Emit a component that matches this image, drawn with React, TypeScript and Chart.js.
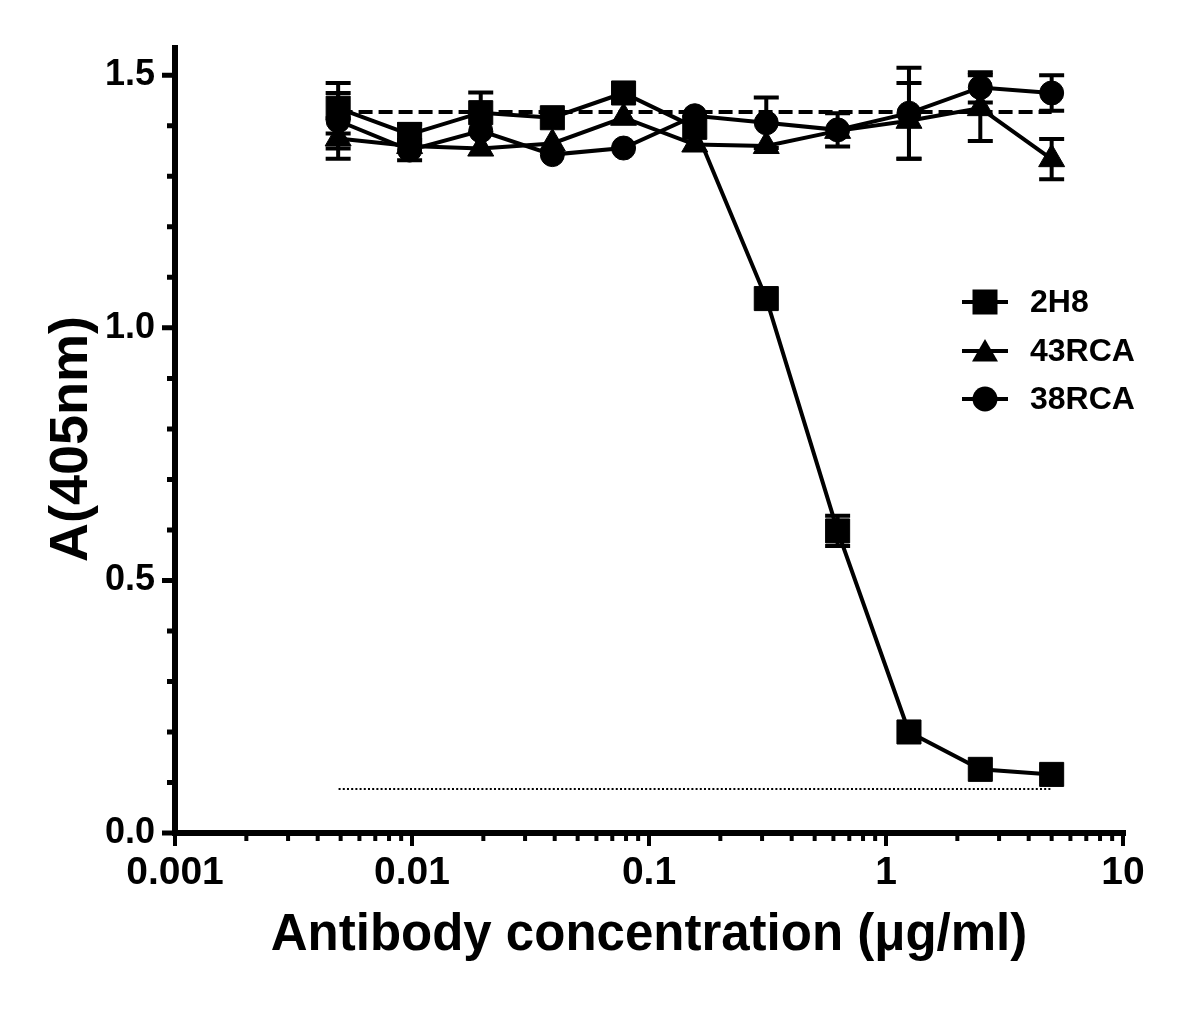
import React, { useEffect, useRef } from "react";
import { Chart, registerables } from "chart.js";

Chart.register(...registerables);

// ---- Data ----
const concentrations = [0.00488, 0.00977, 0.0195, 0.0391, 0.0781, 0.156, 0.3125, 0.625, 1.25, 2.5, 5];
const series2H8 = [1.435, 1.383, 1.426, 1.416, 1.465, 1.397, 1.058, 0.598, 0.2, 0.126, 0.116];
const err2H8 = [0.05, 0.02, 0.04, 0, 0, 0, 0, 0.03, 0, 0, 0];
const series43RCA = [1.375, 1.36, 1.355, 1.365, 1.416, 1.363, 1.36, 1.39, 1.41, 1.435, 1.334];
const err43RCA = [0.04, 0, 0, 0, 0, 0, 0, 0, 0.075, 0.065, 0.04];
const series38RCA = [1.41, 1.352, 1.39, 1.343, 1.356, 1.42, 1.406, 1.392, 1.425, 1.476, 1.465];
const err38RCA = [0.055, 0.02, 0, 0, 0, 0, 0.05, 0.033, 0.09, 0.03, 0.035];
const seriesLabels = ["2H8", "43RCA", "38RCA"];
const seriesMarkers = ["rect", "triangle", "circle"];

const xTickValues = [0.001, 0.01, 0.1, 1, 10];
const xTickLabels = ["0.001", "0.01", "0.1", "1", "10"];
const yTickValues = [0, 0.5, 1.0, 1.5];
const yTickLabels = ["0.0", "0.5", "1.0", "1.5"];
const yMinorTicks = [0.1, 0.2, 0.3, 0.4, 0.6, 0.7, 0.8, 0.9, 1.1, 1.2, 1.3, 1.4];
const xMinorMultipliers = [2, 3, 4, 5, 6, 7, 8, 9];

const plateauRange = [0.0049, 5];
const plateauLevel = 1.4275;
const backgroundRange = [0.0049, 5];
const backgroundLevel = 0.087;

const xTitle = "Antibody concentration (μg/ml)";
const yTitle = "A(405nm)";

const FONT = "'Liberation Sans', Arial, Helvetica, sans-serif";
const BLACK = "#000000";

const seriesValues = [series2H8, series43RCA, series38RCA];
const seriesErrors = [err2H8, err43RCA, err38RCA];

function drawMarker(ctx: CanvasRenderingContext2D, kind: string, x: number, y: number) {
  ctx.beginPath();
  if (kind === "rect") {
    ctx.rect(x - 12.5, y - 12.5, 25, 25);
  } else if (kind === "triangle") {
    const r = 15;
    ctx.moveTo(x, y - r);
    ctx.lineTo(x + r * Math.sin((2 * Math.PI) / 3), y - r * Math.cos((2 * Math.PI) / 3));
    ctx.lineTo(x + r * Math.sin((4 * Math.PI) / 3), y - r * Math.cos((4 * Math.PI) / 3));
    ctx.closePath();
  } else {
    ctx.arc(x, y, 12.5, 0, Math.PI * 2);
  }
  ctx.fillStyle = BLACK;
  ctx.fill();
}

const errorBarPlugin = {
  id: "errorBars",
  beforeDatasetsDraw(chart: any) {
    const { ctx, scales } = chart;
    const xs = scales.x;
    const ys = scales.y;
    ctx.save();
    ctx.strokeStyle = BLACK;
    ctx.lineWidth = 4;
    ctx.lineCap = "butt";
    seriesValues.forEach((vals, si) => {
      const errs = seriesErrors[si];
      vals.forEach((v, j) => {
        const e = errs[j];
        if (!e) return;
        const px = xs.getPixelForValue(concentrations[j]);
        const top = ys.getPixelForValue(v + e);
        const bot = ys.getPixelForValue(v - e);
        ctx.beginPath();
        ctx.moveTo(px, top);
        ctx.lineTo(px, bot);
        ctx.moveTo(px - 12.5, top);
        ctx.lineTo(px + 12.5, top);
        ctx.moveTo(px - 12.5, bot);
        ctx.lineTo(px + 12.5, bot);
        ctx.stroke();
      });
    });
    ctx.restore();
  },
};

const axesPlugin = {
  id: "prismAxes",
  afterDraw(chart: any) {
    const { ctx, scales, chartArea } = chart;
    const xs = scales.x;
    const ys = scales.y;
    const axisX = chartArea.left;
    const axisY = chartArea.bottom;
    ctx.save();
    ctx.strokeStyle = BLACK;
    ctx.lineCap = "butt";
    // axis lines
    ctx.lineWidth = 6;
    ctx.beginPath();
    ctx.moveTo(axisX, chartArea.top);
    ctx.lineTo(axisX, axisY + 3);
    ctx.moveTo(axisX - 3, axisY);
    ctx.lineTo(chartArea.right + 3, axisY);
    ctx.stroke();
    // y ticks
    ctx.lineWidth = 5;
    ctx.beginPath();
    yTickValues.forEach((v) => {
      const py = ys.getPixelForValue(v);
      ctx.moveTo(axisX - 13, py);
      ctx.lineTo(axisX, py);
    });
    yMinorTicks.forEach((v) => {
      const py = ys.getPixelForValue(v);
      ctx.moveTo(axisX - 8, py);
      ctx.lineTo(axisX, py);
    });
    ctx.stroke();
    // x ticks
    ctx.beginPath();
    xTickValues.forEach((v) => {
      const px = xs.getPixelForValue(v);
      ctx.moveTo(px, axisY);
      ctx.lineTo(px, axisY + 13);
    });
    xTickValues.slice(0, -1).forEach((d) => {
      xMinorMultipliers.forEach((m) => {
        const px = xs.getPixelForValue(d * m);
        ctx.moveTo(px, axisY);
        ctx.lineTo(px, axisY + 8);
      });
    });
    ctx.lineWidth = 4;
    ctx.stroke();
    ctx.restore();
  },
};

const legendPlugin = {
  id: "prismLegend",
  afterDraw(chart: any) {
    const { ctx } = chart;
    const rows = [302, 351, 399];
    ctx.save();
    seriesLabels.forEach((label, i) => {
      const y = rows[i];
      ctx.strokeStyle = BLACK;
      ctx.lineWidth = 4;
      ctx.beginPath();
      ctx.moveTo(962, y);
      ctx.lineTo(1008, y);
      ctx.stroke();
      drawMarker(ctx, seriesMarkers[i], 985, seriesMarkers[i] === "triangle" ? y + 3 : y);
      ctx.fillStyle = BLACK;
      ctx.font = `bold 32px ${FONT}`;
      ctx.textAlign = "left";
      ctx.textBaseline = "middle";
      ctx.fillText(label, 1030, y + 1);
    });
    ctx.restore();
  },
};

function matchIndex(list: number[], v: number) {
  return list.findIndex((t) => Math.abs(t - v) < 1e-9 * Math.max(1, Math.abs(t)) || Math.abs(Math.log10(Math.abs(t) || 1e-12) - Math.log10(Math.abs(v) || 1e-12)) < 1e-6);
}

export default function App() {
  const ref = useRef<HTMLCanvasElement>(null);

  useEffect(() => {
    const canvas = ref.current;
    if (!canvas) return;

    const mkData = (vals: number[]) => concentrations.map((x, i) => ({ x, y: vals[i] }));

    const datasets: any[] = [
      {
        label: seriesLabels[0],
        data: mkData(series2H8),
        showLine: true,
        borderColor: BLACK,
        backgroundColor: BLACK,
        borderWidth: 4,
        pointStyle: "rect",
        pointRadius: 17,
        pointBorderWidth: 1,
        pointBackgroundColor: BLACK,
        pointBorderColor: BLACK,
        order: 1,
      },
      {
        label: seriesLabels[1],
        data: mkData(series43RCA),
        showLine: true,
        borderColor: BLACK,
        backgroundColor: BLACK,
        borderWidth: 4,
        pointStyle: "triangle",
        pointRadius: 15,
        pointBorderWidth: 1,
        pointBackgroundColor: BLACK,
        pointBorderColor: BLACK,
        order: 2,
      },
      {
        label: seriesLabels[2],
        data: mkData(series38RCA),
        showLine: true,
        borderColor: BLACK,
        backgroundColor: BLACK,
        borderWidth: 4,
        pointStyle: "circle",
        pointRadius: 12,
        pointBorderWidth: 1,
        pointBackgroundColor: BLACK,
        pointBorderColor: BLACK,
        order: 3,
      },
      {
        label: "plateau",
        data: plateauRange.map((x) => ({ x, y: plateauLevel })),
        showLine: true,
        borderColor: BLACK,
        borderWidth: 4,
        borderDash: [14, 6],
        pointRadius: 0,
        order: 4,
      },
      {
        label: "background",
        data: backgroundRange.map((x) => ({ x, y: backgroundLevel })),
        showLine: true,
        borderColor: BLACK,
        borderWidth: 2,
        borderDash: [2, 2.2],
        pointRadius: 0,
        order: 5,
      },
    ];

    const chart = new Chart(canvas, {
      type: "scatter",
      data: { datasets },
      plugins: [errorBarPlugin, axesPlugin, legendPlugin],
      options: {
        responsive: false,
        animation: false,
        devicePixelRatio: 1,
        layout: { padding: { top: 45, right: 77, bottom: 0, left: 0 } },
        plugins: {
          legend: { display: false },
          tooltip: { enabled: false },
          title: { display: false },
        },
        scales: {
          x: {
            type: "logarithmic",
            min: 0.001,
            max: 10,
            grid: { display: false, drawTicks: false, tickLength: 0 },
            border: { display: false },
            ticks: {
              autoSkip: false,
              maxRotation: 0,
              minRotation: 0,
              padding: 17,
              color: BLACK,
              font: { family: FONT, size: 39, weight: "bold" },
              callback: (v: any) => {
                const i = matchIndex(xTickValues, Number(v));
                return i >= 0 ? xTickLabels[i] : "";
              },
            },
            afterBuildTicks: (s: any) => {
              s.ticks = xTickValues.map((value) => ({ value }));
            },
            afterFit: (s: any) => {
              s.height = 185;
            },
            title: {
              display: true,
              text: xTitle,
              color: BLACK,
              font: { family: FONT, size: 51, weight: "bold" },
              padding: { top: 0, bottom: 51 },
            },
          },
          y: {
            type: "linear",
            min: 0,
            max: 1.56,
            grid: { display: false, drawTicks: false, tickLength: 0 },
            border: { display: false },
            ticks: {
              autoSkip: false,
              padding: 20,
              color: BLACK,
              font: { family: FONT, size: 36, weight: "bold" },
              callback: (v: any) => {
                const i = matchIndex(yTickValues, Number(v));
                return i >= 0 ? yTickLabels[i] : "";
              },
            },
            afterBuildTicks: (s: any) => {
              s.ticks = yTickValues.map((value) => ({ value }));
            },
            afterFit: (s: any) => {
              s.width = 175;
            },
            title: {
              display: true,
              text: yTitle,
              color: BLACK,
              font: { family: FONT, size: 54, weight: "bold" },
              padding: { top: 40, bottom: 0 },
            },
          },
        },
      } as any,
    });

    return () => chart.destroy();
  }, []);

  return (
    <div style={{ position: "absolute", left: 0, top: 0, width: 1200, height: 1018, background: "#ffffff" }}>
      <canvas ref={ref} width={1200} height={1018} style={{ display: "block", width: 1200, height: 1018 }} />
    </div>
  );
}
